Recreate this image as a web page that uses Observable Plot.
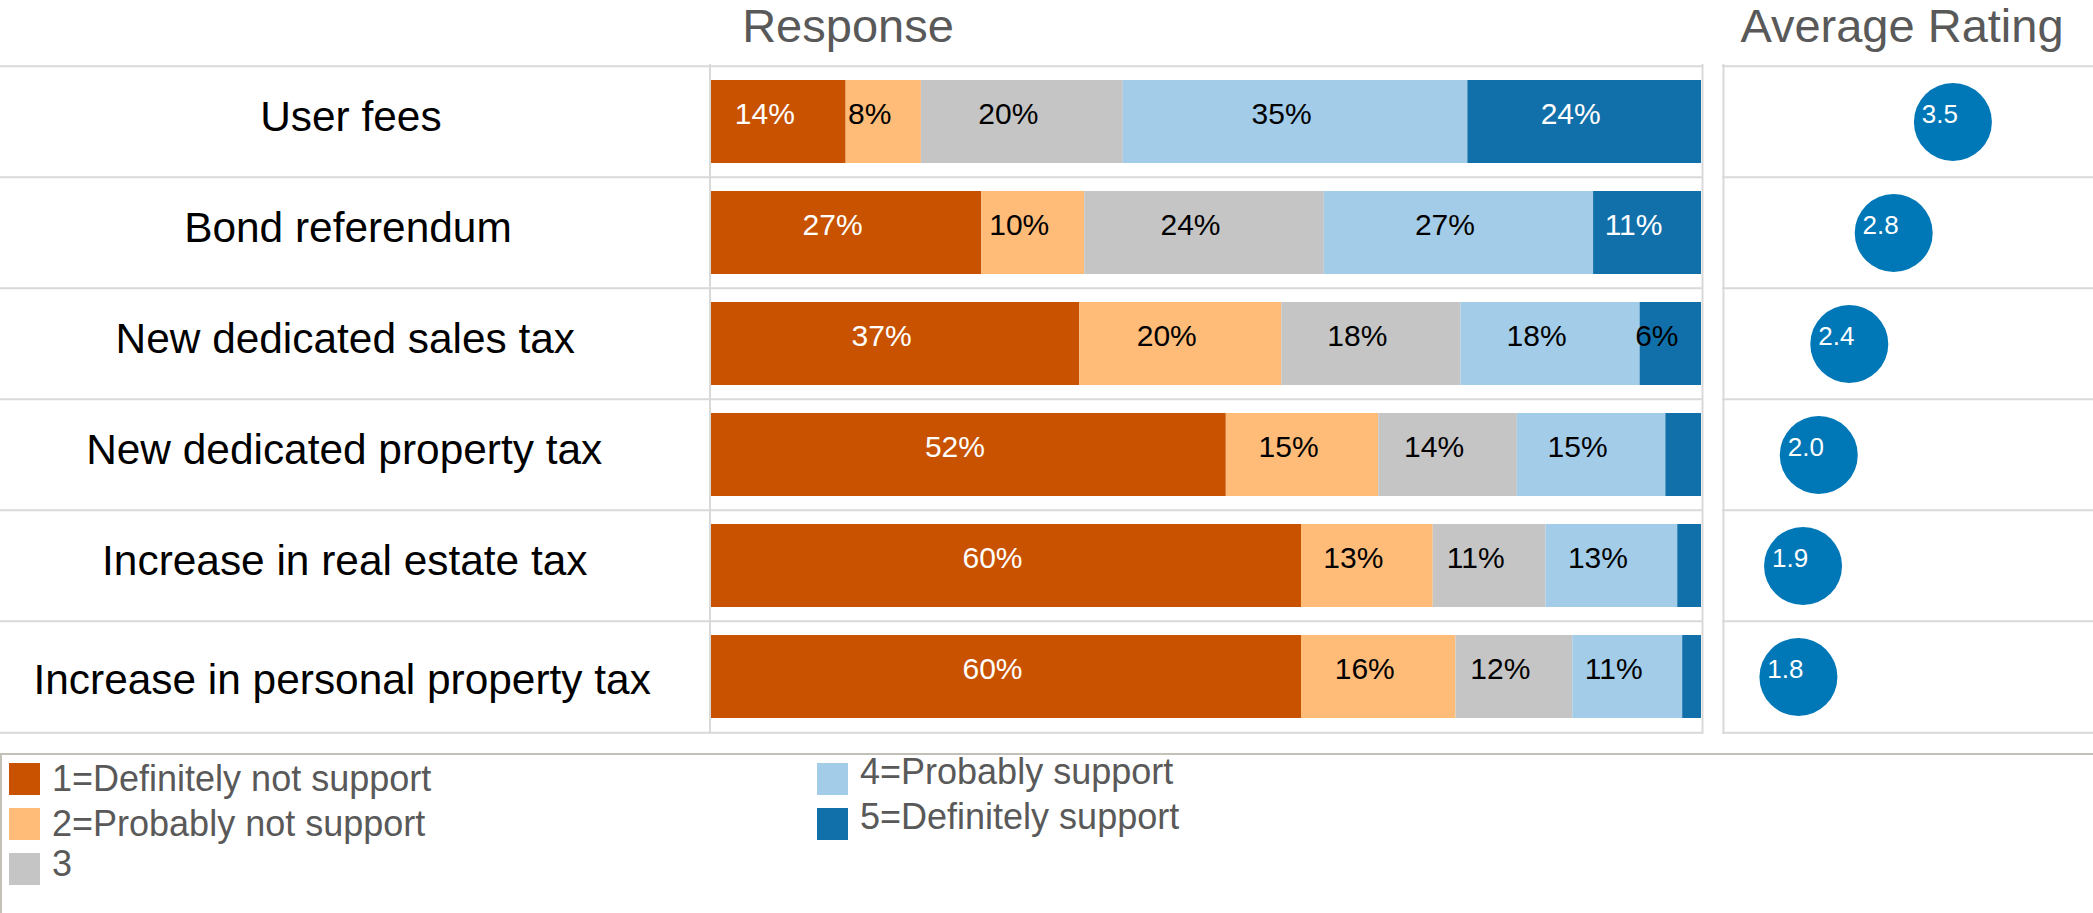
<!DOCTYPE html>
<html><head><meta charset="utf-8">
<script src="https://cdn.jsdelivr.net/npm/d3@7"></script>
<script src="https://cdn.jsdelivr.net/npm/@observablehq/plot@0.6"></script>
<style>
body{margin:0;background:#fff;font-family:"Liberation Sans",Arial,sans-serif;}
#wrap{position:relative;width:2093px;height:913px;overflow:hidden;background:#fff;}
.title{position:absolute;top:2px;font-size:47px;line-height:47px;color:#595959;transform:translateX(-50%);white-space:nowrap;}
.panel{position:absolute;top:62px;}
#legendBox{position:absolute;left:0;top:753px;width:2093px;height:170px;border-top:2px solid #c3c0b8;border-left:2px solid #c3c0b8;box-sizing:border-box;}
.sw{position:absolute;width:31px;height:32px;}
.lt{position:absolute;font-size:36px;line-height:36px;color:#595959;white-space:nowrap;}
</style></head><body><div id="wrap"></div><script>
// ---- data ----
const items = ["User fees","Bond referendum","New dedicated sales tax","New dedicated property tax","Increase in real estate tax","Increase in personal property tax"];
const responses = ["1=Definitely not support","2=Probably not support","3","4=Probably support","5=Definitely support"];
const colors = ["#c85200","#ffbc79","#c5c5c5","#a3cce9","#1170aa"];
const definitelyNot     = [0.136, 0.273, 0.372, 0.520, 0.596, 0.596];
const probablyNot       = [0.076, 0.104, 0.204, 0.154, 0.133, 0.156];
const neutral           = [0.204, 0.242, 0.181, 0.140, 0.114, 0.118];
const probablySupport   = [0.348, 0.272, 0.181, 0.150, 0.133, 0.111];
const definitelySupport = [0.236, 0.109, 0.062, 0.036, 0.024, 0.019];
const ratings = [3.48, 2.84, 2.36, 2.03, 1.86, 1.81];
const titles = ["Response", "Average Rating"];

// ---- tables ----
const series = [definitelyNot, probablyNot, neutral, probablySupport, definitelySupport];
const table = items.flatMap((item, i) => responses.map((r, j) => ({item, response: r, idx: j, value: series[j][i]})));
const ratingTable = items.map((item, i) => ({item, rating: ratings[i]}));
const pct = d3.format(".0%");
const one = d3.format(".1f");
const isWhite = d => (d.idx === 0 || d.idx === 4) && d.value >= 0.08;
const shown = d => d.value >= 0.05;

const wrap = d3.select("#wrap");
const grid = "#d9d9d9";
const font = "'Liberation Sans', Arial, sans-serif";
const plotH = 674, innerH = 670, step = innerH / items.length;
const labelSize = 42.4;

// measure label widths to mimic the original's slight centering drift
const ctx = document.createElement("canvas").getContext("2d");
ctx.font = `${labelSize}px 'Liberation Sans', Arial, sans-serif`;
const labelCenter = t => 354 - 0.02 * ctx.measureText(t).width;

// titles
wrap.append("div").attr("class","title").style("left","848px").text(titles[0]);
wrap.append("div").attr("class","title").style("left","1902px").text(titles[1]);

// ---- bars panel ----
const bars = Plot.plot({
  width: 1704, height: plotH,
  marginLeft: 711, marginRight: 3, marginTop: 2, marginBottom: 2,
  x: {domain: [0, 1], axis: null},
  y: {type: "band", domain: items, padding: 0, axis: null},
  color: {domain: responses, range: colors},
  style: {fontFamily: font, background: "transparent", overflow: "visible"},
  marks: [
    Plot.ruleY(items, {y: d => d, dy: -step / 2, stroke: grid, strokeWidth: 2, insetLeft: -711, insetRight: -2}),
    Plot.ruleY(items.slice(-1), {y: d => d, dy: step / 2, stroke: grid, strokeWidth: 2, insetLeft: -711, insetRight: -2}),
    Plot.ruleX([0], {dx: -1.5, stroke: grid, strokeWidth: 2}),
    Plot.ruleX([1], {dx: 1, stroke: grid, strokeWidth: 2}),
    Plot.barX(table, Plot.stackX({x: "value", y: "item", fill: "response", insetTop: 14, insetBottom: 14})),
    Plot.text(table, Plot.stackX({x: "value", y: "item", z: "response",
      text: d => shown(d) && isWhite(d) ? pct(d.value) : null, fill: "white", fontSize: 30, dx: -14, dy: -8})),
    Plot.text(table, Plot.stackX({x: "value", y: "item", z: "response",
      text: d => shown(d) && !isWhite(d) ? pct(d.value) : null, fill: "black", fontSize: 30, dx: -14, dy: -8})),
    ...items.map((item, i) => Plot.text([item], {y: d => d, text: d => d, frameAnchor: "left", textAnchor: "middle",
      dx: labelCenter(item) - 711, dy: i === items.length - 1 ? 3 : -5, fontSize: labelSize, fill: "black"}))
  ]
});
d3.select(bars).attr("class","panel").style("left","0px");
wrap.node().appendChild(bars);

// ---- rating panel ----
const rate = Plot.plot({
  width: 372, height: plotH,
  marginLeft: 2, marginRight: 0, marginTop: 2, marginBottom: 2,
  x: {domain: [1, 5], axis: null},
  y: {type: "band", domain: items, padding: 0, axis: null},
  style: {fontFamily: font, background: "transparent", overflow: "visible"},
  marks: [
    Plot.ruleY(items, {y: d => d, dy: -step / 2, stroke: grid, strokeWidth: 2, insetLeft: -1}),
    Plot.ruleY(items.slice(-1), {y: d => d, dy: step / 2, stroke: grid, strokeWidth: 2, insetLeft: -1}),
    Plot.ruleX([1], {stroke: grid, strokeWidth: 2}),
    Plot.dot(ratingTable, {x: "rating", y: "item", r: 39, fill: "#0077b6"}),
    Plot.text(ratingTable, {x: "rating", y: "item", text: d => one(d.rating), fill: "white", fontSize: 26, dx: -13, dy: -7})
  ]
});
d3.select(rate).attr("class","panel").style("left","1721px");
wrap.node().appendChild(rate);

// ---- legend ----
wrap.append("div").attr("id","legendBox");
const swTop = [763, 808, 853], txtTop = [[761, 806, 846], [754, 799]];
const colX = [[9, 52], [817, 860]];
responses.forEach((r, i) => {
  const c = i < 3 ? 0 : 1, row = i < 3 ? i : i - 3;
  wrap.append("div").attr("class","sw").style("left", colX[c][0] + "px").style("top", swTop[row] + "px").style("background", colors[i]);
  wrap.append("div").attr("class","lt").style("left", colX[c][1] + "px").style("top", txtTop[c][row] + "px").text(r);
});
</script></body></html>
